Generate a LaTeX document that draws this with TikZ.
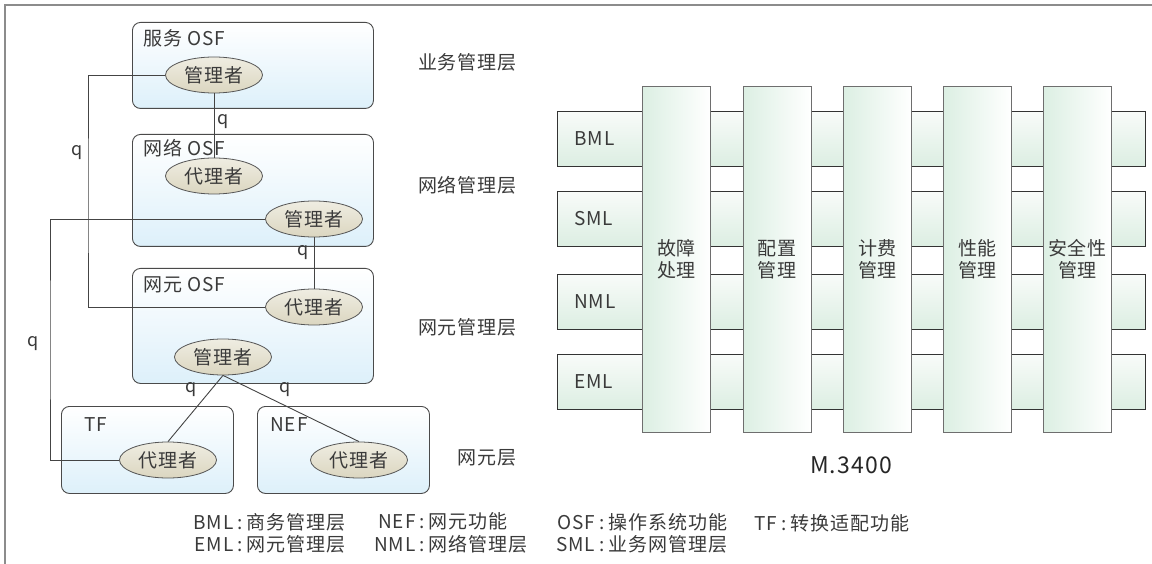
\documentclass[tikz,border=0pt]{standalone}
\usepackage{fontspec}
\setmainfont{Noto Sans CJK SC}[LetterSpace=5]
\usetikzlibrary{shapes.geometric}
\definecolor{txt}{HTML}{3A3A3A}
\definecolor{frm}{HTML}{8C8C8C}
\definecolor{bxd}{HTML}{4A4A4A}
\definecolor{boxb}{HTML}{DDF0FA}
\definecolor{eld}{HTML}{555555}
\definecolor{elt}{HTML}{EFEDE2}
\definecolor{elb}{HTML}{DBD6C0}
\definecolor{lnc}{HTML}{444444}
\definecolor{rowd}{HTML}{333333}
\definecolor{rowt}{HTML}{F8FBF9}
\definecolor{rowb}{HTML}{DCEEE2}
\definecolor{cold}{HTML}{6E6E6E}
\definecolor{colg}{HTML}{DCEFE3}
\newcommand\lgsep{\hspace{4pt}:\hspace{4pt}}
\begin{document}
\begin{tikzpicture}[x=1pt,y=-1pt,
  every node/.style={text=txt},
  osf/.style={draw=bxd, line width=0.9pt, rounded corners=8pt, top color=white, bottom color=boxb, anchor=north west, inner sep=0pt},
  agent/.style={ellipse, draw=eld, line width=0.8pt, top color=elt, bottom color=elb, minimum width=97pt, minimum height=36pt, inner sep=0pt, font=\fontsize{19}{22}\selectfont},
  conn/.style={draw=lnc, line width=0.9pt},
  qlab/.style={font=\fontsize{18}{20}\selectfont},
  title/.style={anchor=west, inner sep=0pt, font=\fontsize{19}{22}\selectfont},
  layer/.style={anchor=east, inner sep=0pt, font=\fontsize{19}{22}\selectfont},
  rowbar/.style={draw=rowd, line width=0.9pt, top color=rowt, bottom color=rowb, anchor=north west, inner sep=0pt, minimum width=588pt, minimum height=55pt},
  rowlab/.style={anchor=west, inner sep=0pt, font=\fontsize{19}{22}\selectfont},
  colbar/.style={draw=cold, line width=1pt, left color=colg, right color=white, anchor=north west, inner sep=0pt, minimum width=68pt, minimum height=346pt, align=center, font=\fontsize{19}{22}\selectfont},
  legend/.style={anchor=west, inner sep=0pt, font=\fontsize{19}{20}\selectfont}
]
\useasboundingbox (0,0) rectangle (1152,564);
\fill[white] (0,0) rectangle (1152,564);
% frame
\draw[frm, line width=2pt] (5,564) -- (5,5) -- (1152,5);

% OSF boxes
\node[osf, minimum width=241pt, minimum height=86pt] (bs) at (132,22) {};
\node[osf, minimum width=241pt, minimum height=112pt] (bn) at (132,134) {};
\node[osf, minimum width=241pt, minimum height=115pt] (be) at (132,268) {};
\node[osf, minimum width=172pt, minimum height=87pt] (btf) at (61,406) {};
\node[osf, minimum width=172pt, minimum height=87pt] (bnef) at (257,406) {};

\node[title] (ts) at (143,38) {服务 OSF};
\node[title] (tn) at (143,148) {网络 OSF};
\node[title] (te) at (143,285) {网元 OSF};
\node[title] (ttf) at (84,425) {TF};
\node[title] (tnef) at (270,425) {NEF};

% agents / managers
\node[agent] (smgr) at (214,75) {管理者};
\node[agent] (nag) at (214,176) {代理者};
\node[agent] (nmgr) at (314,219) {管理者};
\node[agent] (eag) at (314,307) {代理者};
\node[agent] (emgr) at (223,357) {管理者};
\node[agent] (tfag) at (168,460) {代理者};
\node[agent] (nefag) at (359,460) {代理者};

% connectors
\coordinate (c1) at (88,200);
\coordinate (c2) at (50,340);
\draw[conn] (smgr.south) -- (nag.north);
\draw[conn] (smgr.west) -| (c1) |- (eag.west);
\draw[conn] (nmgr.south) -- (eag.north);
\draw[conn] (nmgr.west) -| (c2) |- (tfag.west);
\draw[conn] (emgr.south) -- (tfag.north);
\draw[conn] (emgr.south) -- (nefag.north);

\node[qlab] (q1) at (223,122) {q};
\node[qlab] (q2) at (77,153) {q};
\node[qlab] (q3) at (303,253) {q};
\node[qlab] (q4) at (33,344) {q};
\node[qlab] (q5) at (191,390) {q};
\node[qlab] (q6) at (285,390) {q};

% layer labels
\node[layer] (l1) at (517,62) {业务管理层};
\node[layer] (l2) at (517,185) {网络管理层};
\node[layer] (l3) at (517,327) {网元管理层};
\node[layer] (l4) at (517,458) {网元层};

% M.3400 grid: rows
\node[rowbar] (rbml) at (557,111) {};
\node[rowbar] (rsml) at (557,191) {};
\node[rowbar] (rnml) at (557,274) {};
\node[rowbar] (reml) at (557,354) {};
\node[rowlab] (lbml) at (574,138.5) {BML};
\node[rowlab] (lsml) at (574,218.5) {SML};
\node[rowlab] (lnml) at (574,301.5) {NML};
\node[rowlab] (leml) at (574,381.5) {EML};
% columns
\node[colbar] (k1) at (642,86) {故障\\处理};
\node[colbar] (k2) at (742.5,86) {配置\\管理};
\node[colbar] (k3) at (843,86) {计费\\管理};
\node[colbar] (k4) at (943,86) {性能\\管理};
\node[colbar] (k5) at (1043,86) {安全性\\管理};

\node[font=\fontsize{23}{26}\selectfont, text=black!85] (m3400) at (851,465) {M.3400};

% legend
\node[legend] (g1) at (193,535) {\begin{tabular}{@{}r@{\lgsep}l@{}}BML & 商务管理层\\ EML & 网元管理层\end{tabular}};
\node[legend] (g2) at (374,535) {\begin{tabular}{@{}r@{\lgsep}l@{}}NEF & 网元功能\\ NML & 网络管理层\end{tabular}};
\node[legend] (g3) at (556,535) {\begin{tabular}{@{}r@{\lgsep}l@{}}OSF & 操作系统功能\\ SML & 业务网管理层\end{tabular}};
\node[legend, anchor=north west] (g4) at (754,514) {\begin{tabular}{@{}r@{\lgsep}l@{}}TF & 转换适配功能\end{tabular}};
\end{tikzpicture}
\end{document}
